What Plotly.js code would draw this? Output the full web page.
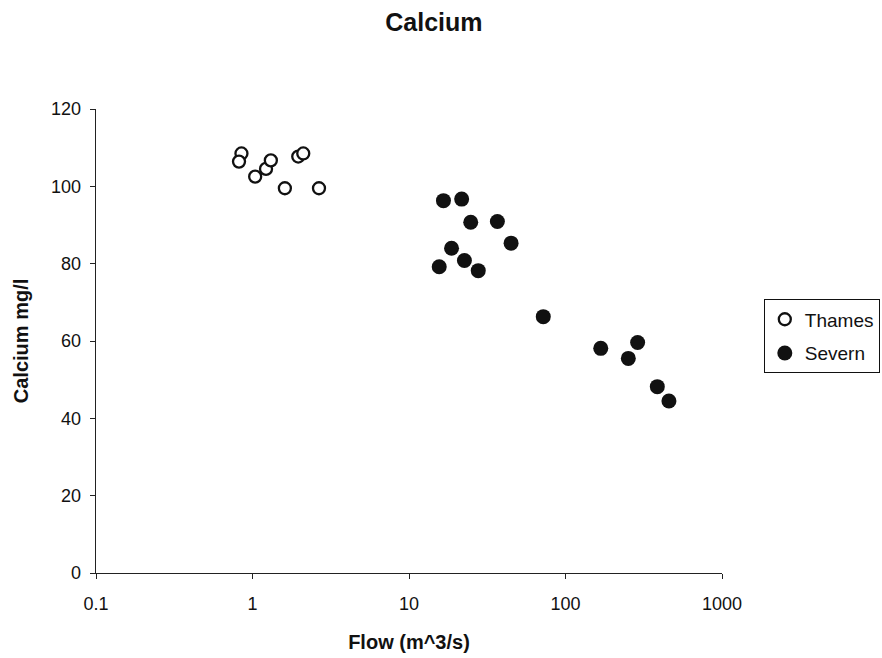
<!DOCTYPE html>
<html>
<head>
<meta charset="utf-8">
<script src="https://cdn.plot.ly/plotly-3.0.1.min.js"></script>
<style>html,body{margin:0;padding:0;background:#fff;}#chart{width:882px;height:658px;}</style>
</head>
<body>
<div id="chart"></div>
<script>
const thamesFlow = [0.85, 0.82, 1.04, 1.22, 1.31, 1.61, 1.96, 2.11, 2.66];
const thamesCalcium = [108.5, 106.4, 102.5, 104.5, 106.7, 99.5, 107.7, 108.5, 99.5];
const severnFlow = [16.6, 21.7, 24.8, 36.7, 44.9, 18.7, 22.6, 15.6, 27.7, 72.1, 168, 289, 252, 386, 458];
const severnCalcium = [96.3, 96.7, 90.7, 90.9, 85.3, 84.0, 80.8, 79.2, 78.2, 66.3, 58.1, 59.6, 55.5, 48.2, 44.5];
const xTickVals = [0.1, 1, 10, 100, 1000];
const xTickText = ['0.1', '1', '10', '100', '1000'];
const yTickVals = [0, 20, 40, 60, 80, 100, 120];

const font = 'Liberation Sans, Arial, sans-serif';
const traces = [
  {x: thamesFlow, y: thamesCalcium, name: 'Thames', legendgroup: 'thames', type: 'scatter', mode: 'markers',
   marker: {symbol: 'circle', size: 12, color: '#ffffff', line: {color: '#111111', width: 2.3}}},
  {x: severnFlow, y: severnCalcium, name: 'Severn', legendgroup: 'severn', type: 'scatter', mode: 'markers',
   marker: {symbol: 'circle', size: 15, color: '#111111', line: {color: '#111111', width: 0}}}
];
const layout = {
  width: 882, height: 658,
  paper_bgcolor: '#ffffff', plot_bgcolor: '#ffffff',
  margin: {l: 96, r: 160, t: 109, b: 85},
  font: {family: font, size: 18, color: '#111111'},
  title: {text: '<b>Calcium</b>', x: 0.492, xanchor: 'center', y: 0.966, yanchor: 'middle',
          font: {family: font, size: 25, color: '#111111'}},
  xaxis: {type: 'log', range: [-1, 3], tickvals: xTickVals, ticktext: xTickText,
          showgrid: false, zeroline: false, showline: true, linecolor: '#222222', linewidth: 1.3,
          ticks: 'outside', ticklen: 5, tickcolor: '#222222', ticklabelstandoff: 9,
          tickfont: {family: font, size: 18, color: '#111111'},
          title: {text: '<b>Flow (m^3/s)</b>', standoff: 22, font: {family: font, size: 20, color: '#111111'}}},
  yaxis: {range: [0, 120], tickvals: yTickVals,
          showgrid: false, zeroline: false, showline: true, linecolor: '#222222', linewidth: 1.3,
          ticks: 'outside', ticklen: 5, tickcolor: '#222222', ticklabelstandoff: 5,
          tickfont: {family: font, size: 18, color: '#111111'},
          title: {text: '<b>Calcium mg/l</b>', standoff: 17, font: {family: font, size: 20, color: '#111111'}}},
  showlegend: true,
  legend: {xref: 'container', yref: 'container', x: 0.866, xanchor: 'left', y: 0.545, yanchor: 'top',
           bordercolor: '#111111', borderwidth: 1,
           bgcolor: '#ffffff', font: {family: font, size: 19, color: '#111111'},
           itemwidth: 30, tracegroupgap: 6}
};
Plotly.newPlot('chart', traces, layout, {displayModeBar: false, staticPlot: true});
</script>
</body>
</html>
